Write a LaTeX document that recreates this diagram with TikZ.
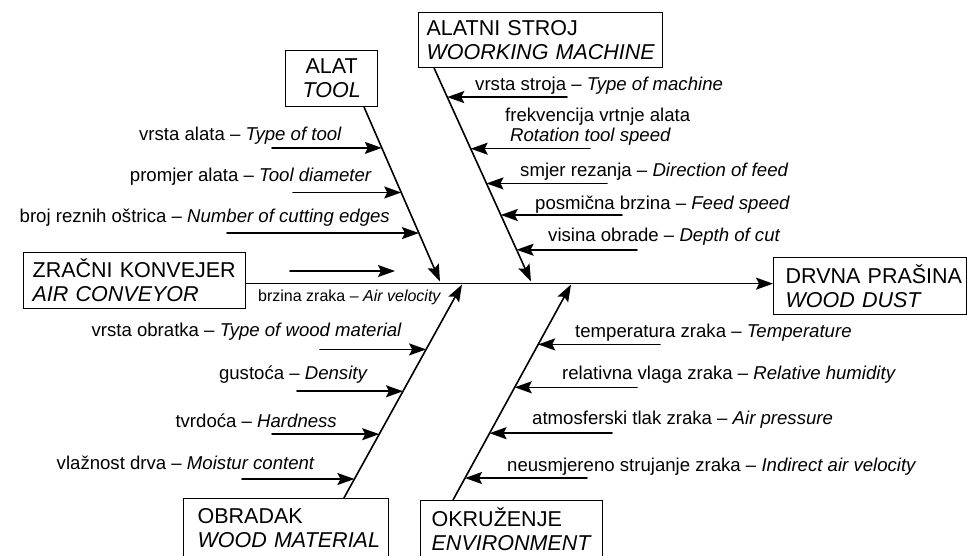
\documentclass[tikz,border=0pt]{standalone}
\usepackage{fontspec}
\setmainfont{Liberation Sans}
\usepackage{tikz}
\usepackage{tkz-euclide}
\usetikzlibrary{calc}
\usetikzlibrary{positioning}
\usetikzlibrary{arrows.meta}

\begin{document}
\begin{tikzpicture}[%
  >={Stealth[length=17pt,width=12pt,inset=3pt]},
  x=1pt, y=-1pt,
  box/.style={draw, line width=1.3pt, inner ysep=0pt, anchor=north west,
    align=left, font=\fontsize{21.5}{24}\selectfont},
  bone/.style={line width=1.6pt},
  cause/.style={inner sep=0pt, font=\fontsize{18.6}{20}\selectfont},
]

  \clip (0,0) rectangle (968,555);

  % boxes
  \node (alat) [box, align=center, inner xsep=8pt, text width=76pt,
    minimum height=56pt] at (285,50) {ALAT\\\textit{TOOL}};
  \node (stroj) [box, inner xsep=8pt, text width=228pt,
    minimum height=55pt] at (418,12) {\mbox{ALATNI STROJ}\\\mbox{\textit{WOORKING MACHINE}}};
  \node (zrak) [box, inner xsep=9pt, text width=204pt,
    minimum height=56pt] at (23,252) {\mbox{ZRAČNI KONVEJER}\\\mbox{\textit{AIR CONVEYOR}}};
  \node (prasina) [box, inner xsep=12pt, text width=169pt,
    minimum height=57pt] at (773,257) {\mbox{DRVNA PRAŠINA}\\\mbox{\textit{WOOD DUST}}};
  \node (obradak) [box, inner xsep=14pt, text width=177pt,
    minimum height=58pt] at (183,498) {\mbox{OBRADAK}\\\mbox{\textit{WOOD MATERIAL}}};
  \node (okruz) [box, inner xsep=11pt, text width=160pt,
    minimum height=58pt] at (420,500) {\mbox{OKRUŽENJE}\\\mbox{\textit{ENVIRONMENT}}};

  % bones
  \coordinate (t0) at ($(alat.south west)!0.848!(alat.south east)$);
  \coordinate (m0) at ($(stroj.south west)!0.066!(stroj.south east)$);
  \coordinate (w0) at ($(obradak.north west)!0.78!(obradak.north east)$);
  \coordinate (e0) at ($(okruz.north west)!0.18!(okruz.north east)$);
  \tkzDefPoint(440,281.5){t9}
  \tkzDefPoint(531,281.5){m9}
  \tkzDefPoint(462,284.5){w9}
  \tkzDefPoint(571,284.5){e9}

  \draw[bone,->] ([yshift=-3pt]zrak.east) -- ([yshift=-3pt]zrak.east -| prasina.west);
  \tkzDrawSegments[bone,->](t0,t9 m0,m9 w0,w9 e0,e9)

  % causes on the bones
  \tkzDefPointOnLine[pos=0.233](t0,t9)\tkzGetPoint{t1}
  \tkzDefPointOnLine[pos=0.489](t0,t9)\tkzGetPoint{t2}
  \tkzDefPointOnLine[pos=0.722](t0,t9)\tkzGetPoint{t3}
  \tkzDefPointOnLine[pos=0.135](m0,m9)\tkzGetPoint{m1}
  \tkzDefPointOnLine[pos=0.377](m0,m9)\tkzGetPoint{m2}
  \tkzDefPointOnLine[pos=0.540](m0,m9)\tkzGetPoint{m3}
  \tkzDefPointOnLine[pos=0.688](m0,m9)\tkzGetPoint{m4}
  \tkzDefPointOnLine[pos=0.851](m0,m9)\tkzGetPoint{m5}
  \tkzDefPointOnLine[pos=0.696](w0,w9)\tkzGetPoint{w1}
  \tkzDefPointOnLine[pos=0.500](w0,w9)\tkzGetPoint{w2}
  \tkzDefPointOnLine[pos=0.299](w0,w9)\tkzGetPoint{w3}
  \tkzDefPointOnLine[pos=0.089](w0,w9)\tkzGetPoint{w4}
  \tkzDefPointOnLine[pos=0.722](e0,e9)\tkzGetPoint{e1}
  \tkzDefPointOnLine[pos=0.523](e0,e9)\tkzGetPoint{e2}
  \tkzDefPointOnLine[pos=0.310](e0,e9)\tkzGetPoint{e3}
  \tkzDefPointOnLine[pos=0.102](e0,e9)\tkzGetPoint{e4}

  \coordinate (t1s) at (272,0 |- t1);
  \coordinate (t2s) at (293,0 |- t2);
  \coordinate (t3s) at (227,0 |- t3);
  \coordinate (m1s) at (567,0 |- m1);
  \coordinate (m2s) at (590,0 |- m2);
  \coordinate (m3s) at (607,0 |- m3);
  \coordinate (m4s) at (622,0 |- m4);
  \coordinate (m5s) at (637,0 |- m5);
  \coordinate (w1s) at (320,0 |- w1);
  \coordinate (w2s) at (297,0 |- w2);
  \coordinate (w3s) at (272,0 |- w3);
  \coordinate (w4s) at (242,0 |- w4);
  \coordinate (e1s) at (660,0 |- e1);
  \coordinate (e2s) at (637,0 |- e2);
  \coordinate (e3s) at (612,0 |- e3);
  \coordinate (e4s) at (587,0 |- e4);
  \tkzDefPoint(290,271){a0}
  \tkzDefPoint(395,271){a1}

  \tkzDrawSegments[bone,->](t1s,t1 t2s,t2 t3s,t3)
  \tkzDrawSegments[bone,->](m1s,m1 m2s,m2 m3s,m3 m4s,m4 m5s,m5)
  \tkzDrawSegments[bone,->](w1s,w1 w2s,w2 w3s,w3 w4s,w4)
  \tkzDrawSegments[bone,->](e1s,e1 e2s,e2 e3s,e3 e4s,e4)
  \tkzDrawSegments[bone,->](a0,a1)

  % labels
  \node (lt1) [cause, anchor=east] at (342,136) {vrsta alata – \textit{Type of tool}};
  \node (lt2) [cause, anchor=east] at (372,177) {promjer alata – \textit{Tool diameter}};
  \node (lt3) [cause, anchor=east] at (390,218) {broj reznih oštrica – \textit{Number of cutting edges}};

  \node (lm1) [cause, anchor=west] at (475,86) {vrsta stroja – \textit{Type of machine}};
  \node (lm2) [cause, anchor=west, align=left] at (505,127)
    {frekvencija vrtnje alata\\\hspace*{5pt}\textit{Rotation tool speed}};
  \node (lm3) [cause, anchor=west] at (520,172) {smjer rezanja – \textit{Direction of feed}};
  \node (lm4) [cause, anchor=west] at (535,205) {posmična brzina – \textit{Feed speed}};
  \node (lm5) [cause, anchor=west] at (548,237) {visina obrade – \textit{Depth of cut}};

  \node (la) [cause, anchor=west, font=\fontsize{16}{18}\selectfont] at (258,297)
    {brzina zraka – \textit{Air velocity}};

  \node (lw1) [cause, anchor=east] at (402,332) {vrsta obratka – \textit{Type of wood material}};
  \node (lw2) [cause, anchor=east] at (368,375) {gustoća – \textit{Density}};
  \node (lw3) [cause, anchor=east] at (337,421) {tvrdoća – \textit{Hardness}};
  \node (lw4) [cause, anchor=east] at (315,463) {vlažnost drva – \textit{Moistur content}};

  \node (le1) [cause, anchor=west] at (575,333) {temperatura zraka – \textit{Temperature}};
  \node (le2) [cause, anchor=west] at (562,375) {relativna vlaga zraka – \textit{Relative humidity}};
  \node (le3) [cause, anchor=west] at (532,420) {atmosferski tlak zraka – \textit{Air pressure}};
  \node (le4) [cause, anchor=west] at (507,467) {neusmjereno strujanje zraka – \textit{Indirect air velocity}};

\end{tikzpicture}
\end{document}
